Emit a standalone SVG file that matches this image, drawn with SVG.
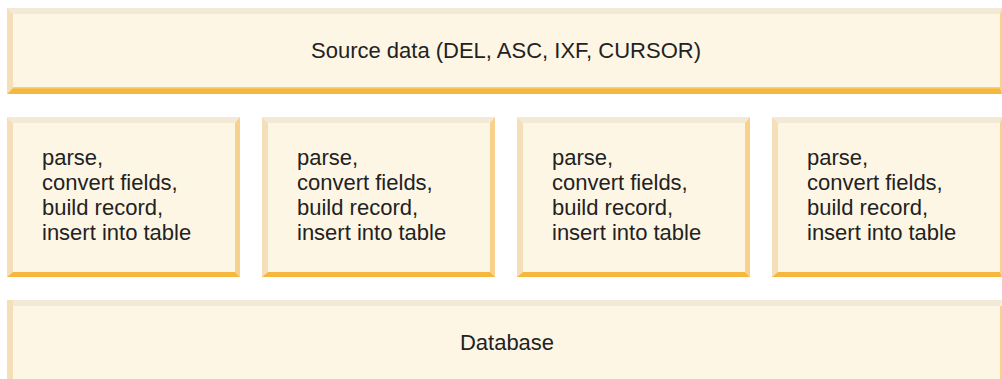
<svg xmlns="http://www.w3.org/2000/svg" width="1002" height="379" viewBox="0 0 1002 379">
<style>
.fill{fill:#fef6e5}
.top{fill:#f3e9d7}
.left{fill:#f5dfb9}
.bot{fill:#f5b73d}
.botl{fill:#f8cf7e}
.right{fill:#f8d28c}
text{font-family:"Liberation Sans",Arial,sans-serif;font-size:22px;fill:#222}
.c{text-anchor:middle}
</style>
<rect width="1002" height="379" fill="#ffffff"/>
<g id="source">
<rect class="fill" x="7" y="8" width="995" height="86"/>
<polygon class="top" points="7,8 1002,8 1000,14 13,14"/>
<polygon class="left" points="7,8 13,14 13,88 7,94"/>
<polygon class="right" points="1002,8 1002,94 1000,88 1000,14"/>
<polygon class="bot" points="7,94 13,88 1000,88 1002,94"/>
<rect class="botl" x="13" y="87" width="987" height="1.5"/>
<text class="c" x="506" y="58">Source data (DEL, ASC, IXF, CURSOR)</text>
</g>
<g id="agent1">
<rect class="fill" x="7" y="117" width="233" height="160"/>
<polygon class="top" points="7,117 240,117 235,123 13,123"/>
<polygon class="left" points="7,117 13,123 13,272 7,277"/>
<polygon class="right" points="240,117 240,277 235,272 235,123"/>
<polygon class="bot" points="7,277 13,272 235,272 240,277"/>
<text x="42" y="165">parse,</text>
<text x="42" y="190">convert fields,</text>
<text x="42" y="215">build record,</text>
<text x="42" y="240">insert into table</text>
</g>
<g id="agent2">
<rect class="fill" x="262" y="117" width="233" height="160"/>
<polygon class="top" points="262,117 495,117 490,123 268,123"/>
<polygon class="left" points="262,117 268,123 268,272 262,277"/>
<polygon class="right" points="495,117 495,277 490,272 490,123"/>
<polygon class="bot" points="262,277 268,272 490,272 495,277"/>
<text x="297" y="165">parse,</text>
<text x="297" y="190">convert fields,</text>
<text x="297" y="215">build record,</text>
<text x="297" y="240">insert into table</text>
</g>
<g id="agent3">
<rect class="fill" x="517" y="117" width="233" height="160"/>
<polygon class="top" points="517,117 750,117 745,123 523,123"/>
<polygon class="left" points="517,117 523,123 523,272 517,277"/>
<polygon class="right" points="750,117 750,277 745,272 745,123"/>
<polygon class="bot" points="517,277 523,272 745,272 750,277"/>
<text x="552" y="165">parse,</text>
<text x="552" y="190">convert fields,</text>
<text x="552" y="215">build record,</text>
<text x="552" y="240">insert into table</text>
</g>
<g id="agent4">
<rect class="fill" x="772" y="117" width="230" height="160"/>
<polygon class="top" points="772,117 1002,117 1000,123 778,123"/>
<polygon class="left" points="772,117 778,123 778,272 772,277"/>
<polygon class="right" points="1002,117 1002,277 1000,272 1000,123"/>
<polygon class="bot" points="772,277 778,272 1000,272 1002,277"/>
<text x="807" y="165">parse,</text>
<text x="807" y="190">convert fields,</text>
<text x="807" y="215">build record,</text>
<text x="807" y="240">insert into table</text>
</g>
<g id="database">
<rect class="fill" x="7" y="300" width="995" height="79"/>
<polygon class="top" points="7,300 1002,300 1000,306 13,306"/>
<rect class="left" x="7" y="300" width="6" height="79"/>
<polygon class="left" points="7,300 13,306 7,306"/>
<rect class="right" x="1000" y="306" width="2" height="73"/>
<text class="c" x="507" y="350">Database</text>
</g>
<g id="connectors"></g>
</svg>
